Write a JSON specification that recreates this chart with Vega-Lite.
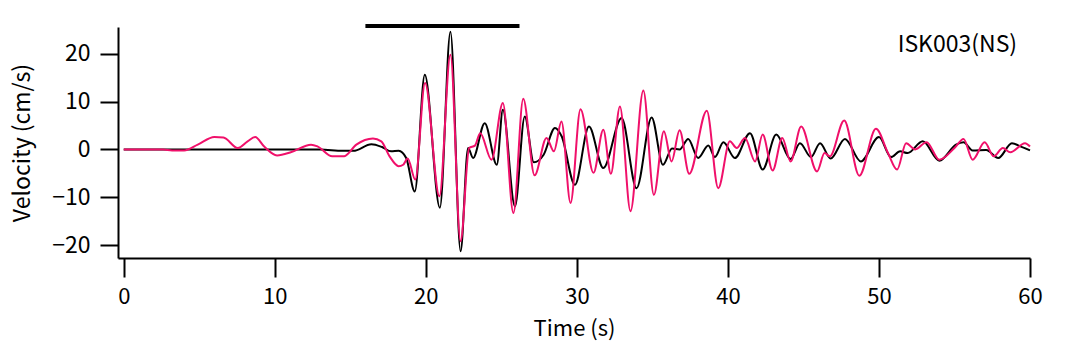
{
  "$schema": "https://vega.github.io/schema/vega-lite/v6.json",
  "width": 912,
  "height": 231,
  "autosize": "none",
  "padding": {"left": 118, "top": 27, "right": 60, "bottom": 86},
  "config": {"view": {"stroke": null}, "font": "Noto Sans CJK JP"},
  "data": {"values": [
    {"t":0,"v":0,"s":"black"},{"t":10,"v":0,"s":"black"},{"t":13,"v":0,"s":"black"},{"t":14.5,"v":-0.3,"s":"black"},{"t":15.2,"v":-0.3,"s":"black"},{"t":16.4,"v":1.1,"s":"black"},{"t":17.1,"v":0.5,"s":"black"},{"t":17.7,"v":-0.4,"s":"black"},{"t":18.2,"v":-0.3,"s":"black"},{"t":18.7,"v":-1.8,"s":"black"},{"t":19.27,"v":-8.8,"s":"black"},{"t":19.93,"v":15.6,"s":"black"},{"t":20.93,"v":-12.2,"s":"black"},{"t":21.63,"v":24.6,"s":"black"},{"t":22.3,"v":-21.3,"s":"black"},{"t":22.8,"v":0.3,"s":"black"},{"t":23.13,"v":-1.8,"s":"black"},{"t":23.9,"v":5.5,"s":"black"},{"t":24.7,"v":-3.2,"s":"black"},{"t":25.1,"v":8.3,"s":"black"},{"t":25.9,"v":-11.9,"s":"black"},{"t":26.55,"v":6.9,"s":"black"},{"t":27.15,"v":-2.7,"s":"black"},{"t":27.8,"v":-1.1,"s":"black"},{"t":28.55,"v":4.5,"s":"black"},{"t":29.0,"v":2.7,"s":"black"},{"t":29.87,"v":-7.4,"s":"black"},{"t":30.8,"v":4.8,"s":"black"},{"t":31.75,"v":-3.9,"s":"black"},{"t":32.96,"v":6.55,"s":"black"},{"t":33.95,"v":-8.1,"s":"black"},{"t":34.95,"v":6.7,"s":"black"},{"t":35.7,"v":-3.2,"s":"black"},{"t":36.3,"v":0.2,"s":"black"},{"t":36.8,"v":0,"s":"black"},{"t":37.37,"v":2.2,"s":"black"},{"t":38.03,"v":-1.8,"s":"black"},{"t":38.7,"v":0.8,"s":"black"},{"t":39.14,"v":-1.6,"s":"black"},{"t":39.7,"v":1.5,"s":"black"},{"t":40.46,"v":-1.8,"s":"black"},{"t":41.46,"v":3.4,"s":"black"},{"t":42.3,"v":-4.2,"s":"black"},{"t":43.2,"v":3.1,"s":"black"},{"t":44.15,"v":-2.0,"s":"black"},{"t":44.77,"v":1.3,"s":"black"},{"t":45.5,"v":-1.6,"s":"black"},{"t":46.1,"v":1.3,"s":"black"},{"t":46.8,"v":-1.9,"s":"black"},{"t":47.75,"v":2.2,"s":"black"},{"t":48.8,"v":-2.5,"s":"black"},{"t":50.0,"v":2.6,"s":"black"},{"t":50.8,"v":-1.6,"s":"black"},{"t":51.4,"v":-0.4,"s":"black"},{"t":51.9,"v":-0.75,"s":"black"},{"t":52.9,"v":1.7,"s":"black"},{"t":54.0,"v":-2.35,"s":"black"},{"t":55.1,"v":1.0,"s":"black"},{"t":55.6,"v":1.5,"s":"black"},{"t":56.2,"v":-0.2,"s":"black"},{"t":57.1,"v":-0.1,"s":"black"},{"t":57.9,"v":-1.8,"s":"black"},{"t":58.8,"v":1.3,"s":"black"},{"t":59.4,"v":0.6,"s":"black"},{"t":60,"v":-0.2,"s":"black"},
    {"t":0,"v":0,"s":"pink"},{"t":2.6,"v":0,"s":"pink"},{"t":3.2,"v":-0.2,"s":"pink"},{"t":4.0,"v":-0.2,"s":"pink"},{"t":4.9,"v":1.0,"s":"pink"},{"t":6.0,"v":2.6,"s":"pink"},{"t":6.6,"v":2.5,"s":"pink"},{"t":7.55,"v":0.3,"s":"pink"},{"t":8.2,"v":1.7,"s":"pink"},{"t":8.7,"v":2.6,"s":"pink"},{"t":9.3,"v":0.6,"s":"pink"},{"t":10.15,"v":-1.25,"s":"pink"},{"t":11.1,"v":-0.55,"s":"pink"},{"t":12.4,"v":1.0,"s":"pink"},{"t":12.85,"v":0.6,"s":"pink"},{"t":13.8,"v":-1.45,"s":"pink"},{"t":14.6,"v":-1.4,"s":"pink"},{"t":15.4,"v":1.0,"s":"pink"},{"t":16.5,"v":2.3,"s":"pink"},{"t":17.05,"v":1.7,"s":"pink"},{"t":17.6,"v":-1.45,"s":"pink"},{"t":18.2,"v":-3.5,"s":"pink"},{"t":18.5,"v":-3.2,"s":"pink"},{"t":18.8,"v":-1.9,"s":"pink"},{"t":19.3,"v":-6.3,"s":"pink"},{"t":19.95,"v":13.9,"s":"pink"},{"t":20.9,"v":-9.8,"s":"pink"},{"t":21.63,"v":19.8,"s":"pink"},{"t":22.3,"v":-19.2,"s":"pink"},{"t":22.87,"v":0.3,"s":"pink"},{"t":23.25,"v":0.8,"s":"pink"},{"t":23.6,"v":3.4,"s":"pink"},{"t":24.35,"v":-2.15,"s":"pink"},{"t":25.1,"v":9.7,"s":"pink"},{"t":25.8,"v":-13.3,"s":"pink"},{"t":26.45,"v":10.6,"s":"pink"},{"t":27.2,"v":-5.4,"s":"pink"},{"t":27.99,"v":2.4,"s":"pink"},{"t":28.48,"v":-0.4,"s":"pink"},{"t":28.98,"v":5.85,"s":"pink"},{"t":29.58,"v":-11.2,"s":"pink"},{"t":30.24,"v":8.4,"s":"pink"},{"t":31.1,"v":-4.9,"s":"pink"},{"t":31.75,"v":4.1,"s":"pink"},{"t":32.25,"v":-5.1,"s":"pink"},{"t":32.85,"v":9.0,"s":"pink"},{"t":33.55,"v":-12.9,"s":"pink"},{"t":34.4,"v":12.3,"s":"pink"},{"t":35.1,"v":-9.5,"s":"pink"},{"t":35.76,"v":3.8,"s":"pink"},{"t":36.27,"v":-2.5,"s":"pink"},{"t":36.8,"v":4.0,"s":"pink"},{"t":37.44,"v":-5.1,"s":"pink"},{"t":38.6,"v":8.1,"s":"pink"},{"t":39.36,"v":-8.1,"s":"pink"},{"t":40.13,"v":1.7,"s":"pink"},{"t":40.58,"v":0.3,"s":"pink"},{"t":41.13,"v":2.4,"s":"pink"},{"t":41.8,"v":-2.5,"s":"pink"},{"t":42.3,"v":3.1,"s":"pink"},{"t":42.96,"v":-4.4,"s":"pink"},{"t":43.6,"v":2.4,"s":"pink"},{"t":44.15,"v":-2.5,"s":"pink"},{"t":44.85,"v":4.8,"s":"pink"},{"t":45.9,"v":-4.6,"s":"pink"},{"t":46.4,"v":-0.75,"s":"pink"},{"t":46.75,"v":-1.45,"s":"pink"},{"t":47.7,"v":6.05,"s":"pink"},{"t":48.7,"v":-5.5,"s":"pink"},{"t":49.8,"v":4.3,"s":"pink"},{"t":50.6,"v":-0.75,"s":"pink"},{"t":51.2,"v":-4.2,"s":"pink"},{"t":51.8,"v":1.3,"s":"pink"},{"t":52.4,"v":0,"s":"pink"},{"t":53.15,"v":1.5,"s":"pink"},{"t":54.0,"v":-2.15,"s":"pink"},{"t":55.0,"v":0.3,"s":"pink"},{"t":55.6,"v":2.2,"s":"pink"},{"t":56.2,"v":-2.15,"s":"pink"},{"t":57.0,"v":1.5,"s":"pink"},{"t":57.6,"v":-1.45,"s":"pink"},{"t":58.2,"v":0.3,"s":"pink"},{"t":58.7,"v":-0.6,"s":"pink"},{"t":59.67,"v":1.3,"s":"pink"},{"t":60,"v":0.6,"s":"pink"}
  ]},
  "layer": [
    {
      "transform": [{"filter": "datum.s === 'black'"}],
      "mark": {"type": "line", "interpolate": "monotone", "strokeWidth": 2, "color": "#000000"},
      "encoding": {
        "x": {"field": "t", "type": "quantitative", "scale": {"domain": [-0.38, 60], "nice": false, "zero": false},
          "axis": {"title": "Time (s)", "values": [0,10,20,30,40,50,60], "grid": false, "domainColor": "#000", "domainWidth": 2, "tickColor": "#000", "tickWidth": 2, "tickSize": 19, "labelFontSize": 22, "labelColor": "#000", "labelPadding": 9, "titleFontSize": 22, "titleFontWeight": "normal", "titleColor": "#000", "titlePadding": 11, "labelFlush": false}},
        "y": {"field": "v", "type": "quantitative", "scale": {"domain": [-22.7, 25.6], "nice": false, "zero": false},
          "axis": {"title": "Velocity (cm/s)", "values": [-20,-10,0,10,20], "grid": false, "domainColor": "#000", "domainWidth": 2, "tickColor": "#000", "tickWidth": 2, "tickSize": 18, "labelFontSize": 23, "labelColor": "#000", "labelPadding": 10, "titleFontSize": 23, "titleFontWeight": "normal", "titleColor": "#000", "titlePadding": 17, "labelFlush": false}}
      }
    },
    {
      "transform": [{"filter": "datum.s === 'pink'"}],
      "mark": {"type": "line", "interpolate": "monotone", "strokeWidth": 2, "color": "#f0106a"},
      "encoding": {
        "x": {"field": "t", "type": "quantitative"},
        "y": {"field": "v", "type": "quantitative"}
      }
    },
    {
      "data": {"values": [{"t0": 16, "t1": 26.2}]},
      "mark": {"type": "rule", "strokeWidth": 4, "color": "#000000"},
      "encoding": {"x": {"field": "t0", "type": "quantitative"}, "x2": {"field": "t1"}, "y": {"datum": 25.8}}
    },
    {
      "data": {"values": [{"label": "ISK003(NS)"}]},
      "mark": {"type": "text", "fontSize": 23, "align": "right", "baseline": "middle", "color": "#000000"},
      "encoding": {"text": {"field": "label"}, "x": {"datum": 59.15}, "y": {"datum": 21.9}}
    }
  ]
}
